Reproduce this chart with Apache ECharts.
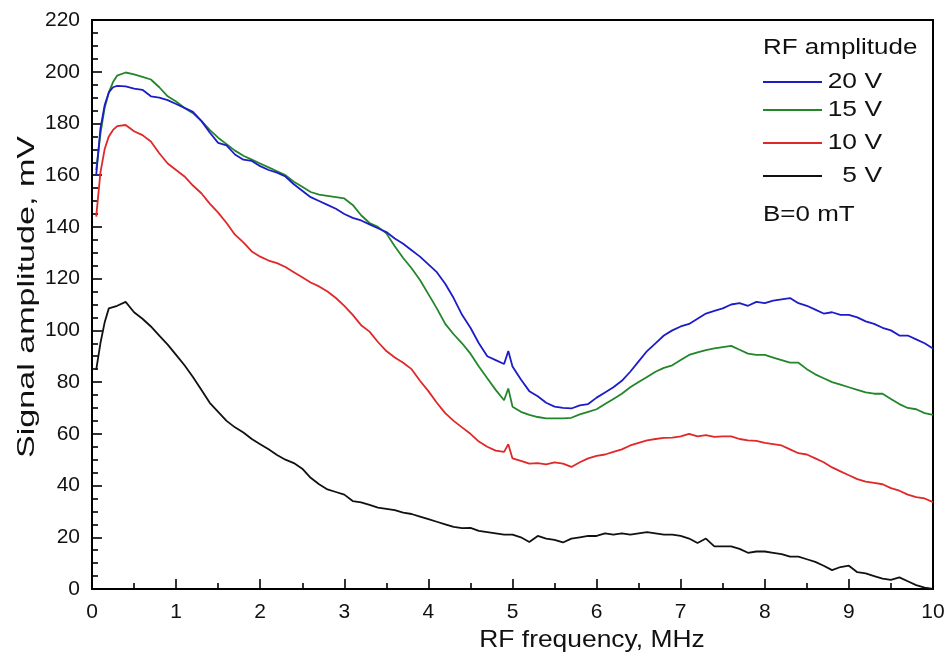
<!DOCTYPE html>
<html>
<head>
<meta charset="utf-8">
<script src="https://cdn.jsdelivr.net/npm/echarts@6/dist/echarts.min.js"></script>
<style>html,body{margin:0;padding:0;background:#fff;}#c{width:949px;height:659px;}</style>
</head>
<body>
<div id="c"></div>
<script>
// RF frequency, MHz
const freq = [0.05,0.1,0.15,0.2,0.25,0.3,
  0.4,0.5,0.6,0.7,0.8,0.9,1.0,
  1.1,1.2,1.3,1.4,1.5,1.6,1.7,1.8,1.9,2.0,
  2.1,2.2,2.3,2.4,2.5,2.6,2.7,2.8,2.9,3.0,
  3.1,3.2,3.3,3.4,3.5,3.6,3.7,3.8,3.9,4.0,
  4.1,4.2,4.3,4.4,4.5,4.6,4.7,4.8,4.9,
  4.95,5.0,
  5.1,5.2,5.3,5.4,5.5,5.6,5.7,5.8,5.9,6.0,
  6.1,6.2,6.3,6.4,6.5,6.6,6.7,6.8,6.9,7.0,
  7.1,7.2,7.3,7.4,7.5,7.6,7.7,7.8,7.9,8.0,
  8.1,8.2,8.3,8.4,8.5,8.6,8.7,8.8,8.9,9.0,
  9.1,9.2,9.3,9.4,9.5,9.6,9.7,9.8,9.9,10.0];

// Signal amplitude, mV
const v20 = [160,178,187,192,194,194.5,
  194.3,193.5,193,190.5,190,189,187.5,
  186,184.5,181,176.5,172.5,171.5,168,166,165.5,163.5,
  162,161,159.5,156.5,154,151.5,150,148.5,147,145,
  143.5,142.5,141,139.5,138,135.5,133.5,131,128.5,125.5,
  122.5,118,112.5,106,101,95,90,88.5,87,
  92,86,
  81,76.5,74.5,72,70.5,70,69.8,71,71.5,74,
  76,78,80.5,84,88,92,95,98,100,101.5,
  102.5,104.5,106.5,107.5,108.5,110,110.5,109.5,111,110.5,
  111.5,112,112.5,110.5,109.5,108,106.5,107,106,106,
  105,103.5,102.5,101,100,98,98,96.5,95,93];

const v15 = [162,176,186,192,196,198.5,
  199.7,199,198,197,194,190.5,188.5,
  186,184,181,177.5,174.5,172,169.5,167.5,166,164.5,
  163,161.5,160,157.5,155.5,153.5,152.5,152,151.5,151,
  148.5,144.5,141.5,140,137.5,132.5,128,124,119.5,114,
  108.5,102.5,98.5,95,91,86,81.5,77,73,
  77.5,70.5,
  68.5,67.3,66.5,66,66,66,66.2,67.5,68.5,69.5,
  71.5,73.5,75.5,78,80,82,84,85.5,86.5,88.5,
  90.5,91.5,92.4,93,93.5,94,92.5,91,90.5,90.5,
  89.5,88.5,87.5,87.5,85,83,81.5,80,79,78,
  77,76,75.5,75.5,73.5,71.5,70,69.5,68,67.3];

const v10 = [144,161,170,175,177.5,179,
  179.4,177,175.5,173,168.5,164.5,162,
  159.5,156,153,149,145.5,141.5,137,134,130.5,128.5,
  127,126,124.5,122.5,120.5,118.5,117,115,112.5,109.5,
  106,102,99.5,95.5,92,89.5,87.5,85,80.5,76.5,
  72,68,65,62.5,60,57,55,53.5,53,
  56,50.5,
  49.5,48.5,48.7,48.2,49,48.5,47.2,49,50.5,51.5,
  52,53,54,55.5,56.5,57.5,58,58.4,58.5,59,
  60,59,59.5,58.8,59,59,58,57.5,57.3,56.5,
  56,55.5,54,52.5,52,50.5,49,47,45.5,44,
  42.5,41.5,41,40.5,39,38,36.5,35.5,35,33.6];

const v5 = [84.7,95,103,108.5,109,109.5,
  111,107,104.5,101.5,98,94.5,90.5,
  86.5,82,77,72,68.5,65,62.5,60.5,58,56,
  54,51.8,50,48.7,46.5,43,40.5,38.5,37.5,36.5,
  34,33.5,32.5,31.5,31,30.5,29.5,29,28,27,
  26,25,24,23.5,23.6,22.5,22,21.5,21,
  21,21,
  20,18.2,20.5,19.5,19,18,19.5,20,20.5,20.5,
  21.5,21,21.5,21,21.5,22,21.5,21,21,20.5,
  19.5,17.8,19.5,16.5,16.5,16.5,15.5,14,14.5,14.5,
  14,13.5,12.5,12.5,11.5,10.5,9,7.3,8.5,9,
  6.5,6,5,4,3.5,4.5,3,1.5,0.5,0];

const seriesNames = ['20 V','15 V','10 V','5 V'];
const seriesColors = ['#1c1cc8','#23862a','#e02828','#111111'];
const seriesValues = [v20, v15, v10, v5];

const chart = echarts.init(document.getElementById('c'), null, {renderer: 'canvas'});
const FONT = '"Liberation Sans", Arial, sans-serif';

const series = seriesValues.map((vals, i) => ({
  name: seriesNames[i],
  type: 'line',
  data: freq.map((f, k) => [f, vals[k]]),
  showSymbol: false,
  symbol: 'none',
  lineStyle: {color: seriesColors[i], width: 1.8},
  itemStyle: {color: seriesColors[i]},
  z: 4 - i
}));

const legendY = [82, 110, 143, 176];
const graphics = [];
graphics.push({type: 'text', left: null, x: 763, y: 48, scaleX: 1.18,
  style: {text: 'RF amplitude', font: '22px ' + FONT, fill: '#111', textAlign: 'left', textVerticalAlign: 'middle'}});
seriesNames.forEach((n, i) => {
  graphics.push({type: 'line', shape: {x1: 763, y1: legendY[i], x2: 822, y2: legendY[i]},
    style: {stroke: seriesColors[i], lineWidth: 2}});
  graphics.push({type: 'text', x: 882, y: legendY[i], scaleX: 1.2,
    style: {text: n, font: '22px ' + FONT, fill: '#111', textAlign: 'right', textVerticalAlign: 'middle'}});
});
graphics.push({type: 'text', x: 763, y: 215, scaleX: 1.18,
  style: {text: 'B=0 mT', font: '22px ' + FONT, fill: '#111', textAlign: 'left', textVerticalAlign: 'middle'}});
graphics.push({type: 'text', x: 592, y: 640, scaleX: 1.1,
  style: {text: 'RF frequency, MHz', font: '24px ' + FONT, fill: '#111', textAlign: 'center', textVerticalAlign: 'middle'}});
graphics.push({type: 'text', x: 27, y: 297, rotation: Math.PI / 2, scaleX: 1.42,
  style: {text: 'Signal amplitude, mV', font: '24px ' + FONT, fill: '#111', textAlign: 'center', textVerticalAlign: 'middle'}});

chart.setOption({
  animation: false,
  backgroundColor: '#fff',
  grid: {left: 92, right: 16, top: 20, bottom: 70, show: true, borderColor: '#000', borderWidth: 2, backgroundColor: 'transparent'},
  xAxis: {
    type: 'value', min: 0, max: 10, interval: 1,
    axisLine: {show: true, onZero: false, lineStyle: {color: '#000', width: 2}},
    axisTick: {show: true, inside: true, length: 10, lineStyle: {color: '#000', width: 1.6}},
    minorTick: {show: true, splitNumber: 2, length: 6, lineStyle: {color: '#000', width: 1.6}},
    splitLine: {show: false},
    axisLabel: {color: '#111', fontSize: 21, fontFamily: FONT, margin: 13}
  },
  yAxis: {
    type: 'value', min: 0, max: 220, interval: 20,
    axisLine: {show: true, onZero: false, lineStyle: {color: '#000', width: 2}},
    axisTick: {show: true, inside: true, length: 10, lineStyle: {color: '#000', width: 1.6}},
    minorTick: {show: true, splitNumber: 4, length: 6, lineStyle: {color: '#000', width: 1.6}},
    splitLine: {show: false},
    axisLabel: {color: '#111', fontSize: 21, fontFamily: FONT, margin: 12}
  },
  series: series,
  graphic: graphics
});
</script>
</body>
</html>
